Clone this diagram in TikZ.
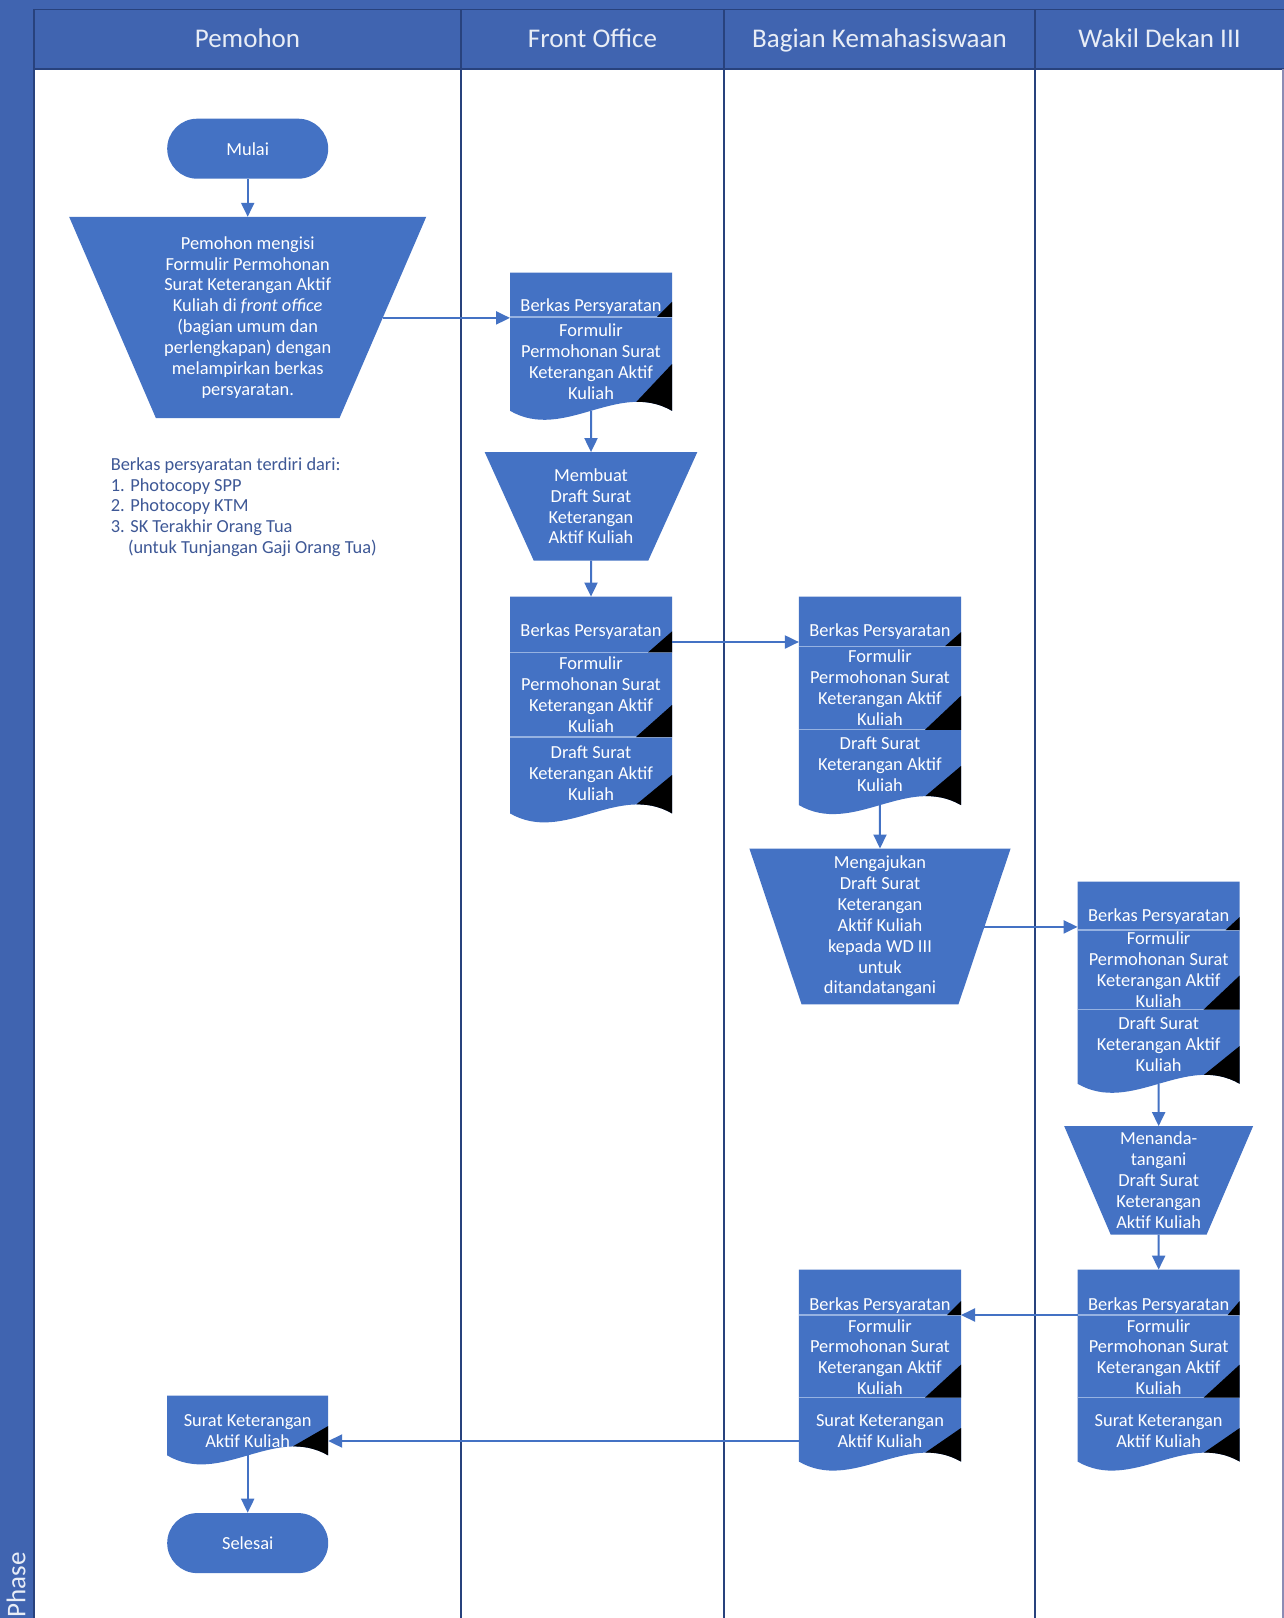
\documentclass[tikz,border=0pt]{standalone}
\usepackage{fontspec}
\setmainfont{Carlito}
\usetikzlibrary{arrows.meta,fit}
\definecolor{shapeblue}{RGB}{68,114,196}
\definecolor{hdrblue}{RGB}{64,100,176}
\definecolor{lanedark}{RGB}{40,66,125}
\definecolor{notecol}{RGB}{62,88,150}
\definecolor{seplight}{RGB}{150,178,225}
\definecolor{hdrtext}{RGB}{232,237,246}
% doc shape: name, L, R, top, yb, A, ya
\newcommand\docshape[7]{%
  \fill[shapeblue] (#2,#4) -- (#3,#4) -- (#3,#5) .. controls ({#3-(#3-#2)/3},{#5-3.46*#6}) and ({#2+(#3-#2)/3},{#5+3.46*#6}) .. (#2,#5) -- cycle;
  \begin{scope}
    \clip (#2,#4) -- (#3,#4) -- (#3,#5) .. controls ({#3-(#3-#2)/3},{#5-3.46*#6}) and ({#2+(#3-#2)/3},{#5+3.46*#6}) .. (#2,#5) -- cycle;
    \fill[black] (#3,#7) -- ({#3-0.22*(#3-#2)},{#5-#6}) -- ({#3-0.22*(#3-#2)},{#5+60}) -- ({#3+5},{#5+60}) -- ({#3+5},#7) -- cycle;
  \end{scope}
  \node[fit={(#2,#4) (#3,#5)}, inner sep=0pt, outer sep=0pt] (#1) {};
}
% section corner triangle: R, sep, w, h
\newcommand\sectri[4]{\fill[black] (#1,{#2-#4}) -- (#1,#2) -- ({#1-#3},#2) -- cycle;}
% separator line: L, R, y
\newcommand\sepl[3]{\draw[sepline] (#1,#3) -- (#2,#3);}
% trapezoid: name, cx, top, bottom, halftop, halfbottom, text
\newcommand\trapz[7]{%
  \fill[shapeblue] ({#2-#5},#3) -- ({#2+#5},#3) -- ({#2+#6},#4) -- ({#2-#6},#4) -- cycle;
  \node[fit={({#2-#5},#3) ({#2+#5},#4)}, inner sep=0pt, outer sep=0pt] (#1) {};
  \node[txt] (#1-text) at (#1.center) {#7};
}
\begin{document}
\begin{tikzpicture}[x=0.5pt,y=-0.5pt,
  txt/.style={text=white, align=center, inner sep=0pt, font=\fontsize{9.2}{10.45}\selectfont},
  term/.style={fill=shapeblue, rounded corners=15pt, minimum width=80.5pt, minimum height=30pt, inner sep=0pt, text=white, font=\fontsize{9.2}{10.5}\selectfont},
  hdrtxt/.style={text=hdrtext, anchor=base, inner sep=0pt, font=\fontsize{13.5}{16}\selectfont},
  arr/.style={draw=shapeblue, line width=1pt, -{Triangle[length=7pt,width=6.5pt]}},
  laneline/.style={draw=lanedark, line width=0.8pt},
  sepline/.style={draw=seplight, line width=0.6pt},
  note/.style={text=notecol, align=left, inner sep=0pt, font=\fontsize{9.2}{10.45}\selectfont}
]
\useasboundingbox (0,0) rectangle (1284,1618);
\fill[white] (0,0) rectangle (1284,1618);
% pool frame
\fill[hdrblue] (0,0) rectangle (1284,69);
\fill[hdrblue] (0,0) rectangle (34,1618);
\draw[laneline, line width=0.5pt] (34,9) -- (1284,9);
\draw[laneline] (34,69) -- (1284,69);
\draw[laneline] (34,9) -- (34,1618);
\draw[laneline] (461,9) -- (461,1618);
\draw[laneline] (724,9) -- (724,1618);
\draw[laneline] (1035,9) -- (1035,1618);
\draw[draw={rgb,255:red,140;green,140;blue,180}, line width=0.6pt] (1283,69) -- (1283,1618);
\node[hdrtxt] (h1) at (247.5,47) {Pemohon};
\node[hdrtxt] (h2) at (592.5,47) {Front Office};
\node[hdrtxt] (h3) at (879.5,47) {Bagian Kemahasiswaan};
\node[hdrtxt] (h4) at (1159.5,47) {Wakil Dekan III};
\node[text=hdrtext, rotate=90, inner sep=0pt, font=\fontsize{13.5}{16}\selectfont] (phase) at (16,1585) {Phase};

% terminators
\node[term] (mulai) at (247.7,148.7) {Mulai};
\node[term] (selesai) at (247.7,1543.1) {Selesai};

% processes
\trapz{t1}{247.7}{216.8}{418}{178.55}{91.85}{Pemohon mengisi\\Formulir Permohonan\\Surat Keterangan Aktif\\Kuliah di \textit{front office}\\(bagian umum dan\\perlengkapan) dengan\\melampirkan berkas\\persyaratan.}
\trapz{t2}{591}{452.1}{560.5}{106.3}{57.3}{Membuat\\Draft Surat\\Keterangan\\Aktif Kuliah}
\trapz{t3}{880}{848.5}{1004.3}{130.6}{78.45}{Mengajukan\\Draft Surat\\Keterangan\\Aktif Kuliah\\kepada WD III\\untuk\\ditandatangani}
\trapz{t4}{1158.65}{1126.1}{1234.5}{94.45}{48}{Menanda-\\tangani\\Draft Surat\\Keterangan\\Aktif Kuliah}

% note
\node[note, anchor=north west] (note) at (110.4,457) {Berkas persyaratan terdiri dari:\\1. Photocopy SPP\\2. Photocopy KTM\\3. SK Terakhir Orang Tua\\\hspace*{8.6pt}(untuk Tunjangan Gaji Orang Tua)};

% doc 1
\docshape{d1}{510}{672}{272.5}{410.8}{9}{364}
\sepl{510}{672}{316.9}
\sectri{672}{316.9}{15}{15}
\node[txt] (d1a) at (591,306.5) {Berkas Persyaratan};
\node[txt] (d1b) at (591,361.5) {Formulir\\Permohonan Surat\\Keterangan Aktif\\Kuliah};

% doc 2
\docshape{d2}{510}{672}{596.6}{813.4}{9}{775}
\sepl{510}{672}{652.4}
\sepl{510}{672}{737}
\sectri{672}{652.4}{24}{21}
\sectri{672}{737}{36}{32}
\node[txt] (d2a) at (591,631.5) {Berkas Persyaratan};
\node[txt] (d2b) at (591,695) {Formulir\\Permohonan Surat\\Keterangan Aktif\\Kuliah};
\node[txt] (d2c) at (591,773.5) {Draft Surat\\Keterangan Aktif\\Kuliah};

% doc 3
\docshape{d3}{798.9}{961}{596.6}{805.1}{9}{766}
\sepl{798.9}{961}{646.2}
\sepl{798.9}{961}{729.8}
\sectri{961}{646.2}{16}{14}
\sectri{961}{729.8}{36}{34}
\node[txt] (d3a) at (879.95,631.5) {Berkas Persyaratan};
\node[txt] (d3b) at (879.95,687.7) {Formulir\\Permohonan Surat\\Keterangan Aktif\\Kuliah};
\node[txt] (d3c) at (879.95,764.1) {Draft Surat\\Keterangan Aktif\\Kuliah};

% doc 4
\docshape{d4}{1077.6}{1239.7}{881.5}{1083.8}{9}{1046}
\sepl{1077.6}{1239.7}{930}
\sepl{1077.6}{1239.7}{1009.5}
\sectri{1239.7}{930}{14}{13}
\sectri{1239.7}{1009.5}{36}{34}
\node[txt] (d4a) at (1158.65,916.4) {Berkas Persyaratan};
\node[txt] (d4b) at (1158.65,970) {Formulir\\Permohonan Surat\\Keterangan Aktif\\Kuliah};
\node[txt] (d4c) at (1158.65,1044.4) {Draft Surat\\Keterangan Aktif\\Kuliah};

% doc 5
\docshape{d5}{1077.6}{1239.7}{1269.6}{1461.6}{9}{1428}
\sepl{1077.6}{1239.7}{1315}
\sepl{1077.6}{1239.7}{1397.6}
\sectri{1239.7}{1315}{12}{14}
\sectri{1239.7}{1397.6}{36}{33}
\node[txt] (d5a) at (1158.65,1305.5) {Berkas Persyaratan};
\node[txt] (d5b) at (1158.65,1357.1) {Formulir\\Permohonan Surat\\Keterangan Aktif\\Kuliah};
\node[txt] (d5c) at (1158.65,1431.4) {Surat Keterangan\\Aktif Kuliah};

% doc 6
\docshape{d6}{798.9}{961}{1269.6}{1461.6}{9}{1428}
\sepl{798.9}{961}{1315}
\sepl{798.9}{961}{1397.6}
\sectri{961}{1315}{14}{14}
\sectri{961}{1397.6}{36}{33}
\node[txt] (d6a) at (879.95,1305.5) {Berkas Persyaratan};
\node[txt] (d6b) at (879.95,1357.1) {Formulir\\Permohonan Surat\\Keterangan Aktif\\Kuliah};
\node[txt] (d6c) at (879.95,1431.4) {Surat Keterangan\\Aktif Kuliah};

% doc 7
\docshape{d7}{167.2}{328.2}{1395.5}{1455.4}{9}{1426}
\node[txt] (d7a) at (247.7,1430.9) {Surat Keterangan\\Aktif Kuliah};

% connectors
\coordinate (t1out) at (383.2,317.9);
\coordinate (d2out) at (672,642);
\coordinate (t3out) at (984.4,926.9);
\coordinate (d5out) at (1077.6,1315);
\coordinate (d6out) at (798.9,1441);
\draw[arr] (mulai.south) -- (t1.north);
\draw[arr] (t1out) -- (t1out -| d1.west);
\draw[arr] (d1.south) -- (t2.north);
\draw[arr] (t2.south) -- (d2.north);
\draw[arr] (d2out) -- (d2out -| d3.west);
\draw[arr] (d3.south) -- (t3.north);
\draw[arr] (t3out) -- (t3out -| d4.west);
\draw[arr] (d4.south) -- (t4.north);
\draw[arr] (t4.south) -- (d5.north);
\draw[arr] (d5out) -- (d5out -| d6.east);
\draw[arr] (d6out) -- (d6out -| d7.east);
\draw[arr] (d7.south) -- (selesai.north);
\end{tikzpicture}
\end{document}
